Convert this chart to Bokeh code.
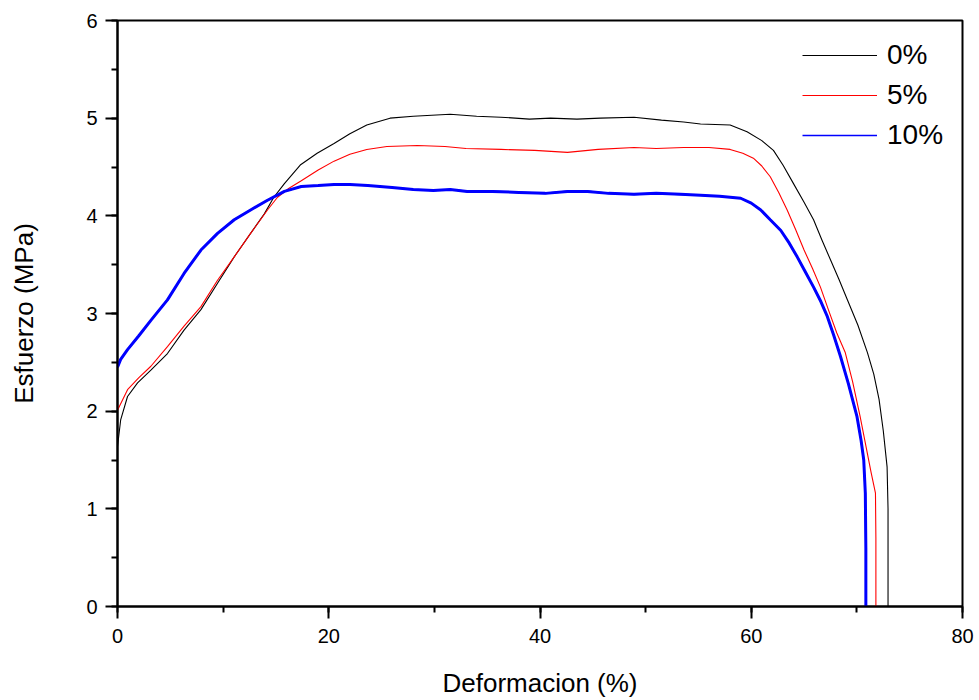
from bokeh.plotting import figure
from bokeh.models import Legend, LegendItem, SingleIntervalTicker
from bokeh.embed import file_html
from bokeh.resources import INLINE

# ---- data ----
x0 = [0, 0.3, 0.95, 1.9, 3.16, 4.73, 6.3, 7.9, 9.47, 11.05, 12.6, 13.9, 14.8, 15.8,
      17.3, 18.9, 20.5, 22.0, 23.6, 25.8, 28.0, 31.5, 34.0, 36.3, 39.0, 41.0, 43.5,
      45.7, 48.9, 51.5, 53.6, 55.2, 58.0, 59.6, 61.0, 62.1, 63.0, 64.0, 65.0, 65.9,
      66.7, 67.5, 68.3, 69.1, 70.1, 71.0, 71.6, 72.1, 72.5, 72.86, 72.95, 72.95]
y0 = [1.64, 1.91, 2.15, 2.29, 2.42, 2.59, 2.83, 3.04, 3.31, 3.58, 3.82, 4.02, 4.19, 4.33,
      4.52, 4.64, 4.74, 4.84, 4.93, 5.00, 5.02, 5.04, 5.02, 5.01, 4.99, 5.00, 4.99,
      5.00, 5.01, 4.98, 4.96, 4.94, 4.93, 4.86, 4.77, 4.67, 4.52, 4.33, 4.14, 3.96,
      3.75, 3.55, 3.35, 3.14, 2.88, 2.60, 2.38, 2.12, 1.80, 1.43, 1.0, 0]

x5 = [0, 0.95, 2.0, 3.16, 4.73, 6.3, 7.9, 9.47, 11.05, 12.6, 14.2, 15.15, 16.2, 17.4,
      19.0, 20.5, 22.0, 23.6, 25.5, 28.4, 31.0, 33.0, 36.3, 39.5, 42.6, 45.5, 48.9,
      51.0, 53.6, 56.0, 58.0, 59.2, 60.2, 61.0, 61.8, 62.6, 63.4, 64.2, 65.0, 65.8,
      66.55, 67.3, 68.1, 68.9, 69.6, 70.3, 70.9, 71.35, 71.76, 71.8, 71.8]
y5 = [2.01, 2.22, 2.34, 2.46, 2.66, 2.87, 3.07, 3.34, 3.58, 3.82, 4.06, 4.19, 4.28, 4.36,
      4.47, 4.56, 4.63, 4.68, 4.71, 4.72, 4.71, 4.69, 4.68, 4.67, 4.65, 4.68, 4.70,
      4.69, 4.70, 4.70, 4.68, 4.64, 4.59, 4.51, 4.40, 4.24, 4.06, 3.86, 3.65, 3.46,
      3.27, 3.04, 2.80, 2.60, 2.30, 1.95, 1.62, 1.37, 1.16, 0.7, 0]

x10 = [0, 0.3, 0.95, 2.0, 3.16, 4.73, 6.3, 7.9, 9.47, 11.05, 12.6, 14.2, 15.8, 17.4,
       19.0, 20.5, 22.0, 23.7, 26.0, 28.0, 29.9, 31.5, 33.1, 35.5, 38.0, 40.5, 42.6,
       44.5, 46.5, 48.9, 51.0, 53.3, 55.2, 57.0, 59.0, 60.0, 60.9, 61.8, 62.8, 63.6,
       64.35, 65.1, 65.9, 66.6, 67.2, 67.8, 68.45, 69.2, 70.0, 70.4, 70.65, 70.8,
       70.85, 70.85]
y10 = [2.45, 2.53, 2.63, 2.77, 2.93, 3.14, 3.41, 3.65, 3.82, 3.96, 4.06, 4.16, 4.25, 4.30,
       4.31, 4.32, 4.32, 4.31, 4.29, 4.27, 4.26, 4.27, 4.25, 4.25, 4.24, 4.23, 4.25,
       4.25, 4.23, 4.22, 4.23, 4.22, 4.21, 4.20, 4.18, 4.13, 4.06, 3.96, 3.85, 3.72,
       3.58, 3.43, 3.27, 3.12, 2.97, 2.78, 2.56, 2.28, 1.95, 1.70, 1.50, 1.16,
       0.6, 0]

labels = ["0%", "5%", "10%"]
colors = ["black", "#ff0000", "#0000ff"]
x_ticks_interval = 20
y_ticks_interval = 1

FONT = "Liberation Sans"

p = figure(width=979, height=700, x_range=(0, 80), y_range=(0, 6),
           output_backend="svg", toolbar_location=None,
           min_border_left=117, min_border_top=20, min_border_right=17,
           min_border_bottom=93)
p.xgrid.visible = False
p.ygrid.visible = False
p.outline_line_color = "black"
p.outline_line_width = 2
p.outline_line_alpha = 1

r0 = p.line(x0, y0, line_color=colors[0], line_width=1.1)
r5 = p.line(x5, y5, line_color=colors[1], line_width=1.1)
r10 = p.line(x10, y10, line_color=colors[2], line_width=1.6)
# thicker blue trace drawn over the thin one (the thin one is used for the legend)
p.line(x10, y10, line_color=colors[2], line_width=3)

p.xaxis.ticker = SingleIntervalTicker(interval=x_ticks_interval, num_minor_ticks=2)
p.yaxis.ticker = SingleIntervalTicker(interval=y_ticks_interval, num_minor_ticks=2)

for ax in (p.xaxis[0], p.yaxis[0]):
    ax.axis_line_width = 2
    ax.major_tick_line_width = 2
    ax.minor_tick_line_width = 2
    ax.major_tick_out = 12
    ax.major_tick_in = 0
    ax.minor_tick_out = 6
    ax.minor_tick_in = 0
    ax.major_label_text_font = FONT
    ax.major_label_text_font_size = "20px"
    ax.major_label_text_color = "black"
    ax.axis_label_text_font = FONT
    ax.axis_label_text_font_size = "26px"
    ax.axis_label_text_font_style = "normal"
    ax.axis_label_text_color = "black"

p.xaxis.major_label_standoff = 10
p.yaxis.major_label_standoff = 8
p.xaxis.axis_label = "Deformacion (%)"
p.yaxis.axis_label = "Esfuerzo (MPa)"
p.xaxis.axis_label_standoff = 22
p.yaxis.axis_label_standoff = 44

legend = Legend(items=[LegendItem(label=l, renderers=[r])
                       for l, r in zip(labels, [r0, r5, r10])],
                location=(685, 451))
legend.border_line_color = None
legend.background_fill_alpha = 0
legend.padding = 0
legend.margin = 0
legend.spacing = 0
legend.glyph_width = 75
legend.glyph_height = 40
legend.label_height = 40
legend.label_standoff = 10
legend.label_text_font = FONT
legend.label_text_font_size = "28px"
legend.label_text_color = "black"
p.add_layout(legend)

open("out.html", "w").write(file_html(p, INLINE))
